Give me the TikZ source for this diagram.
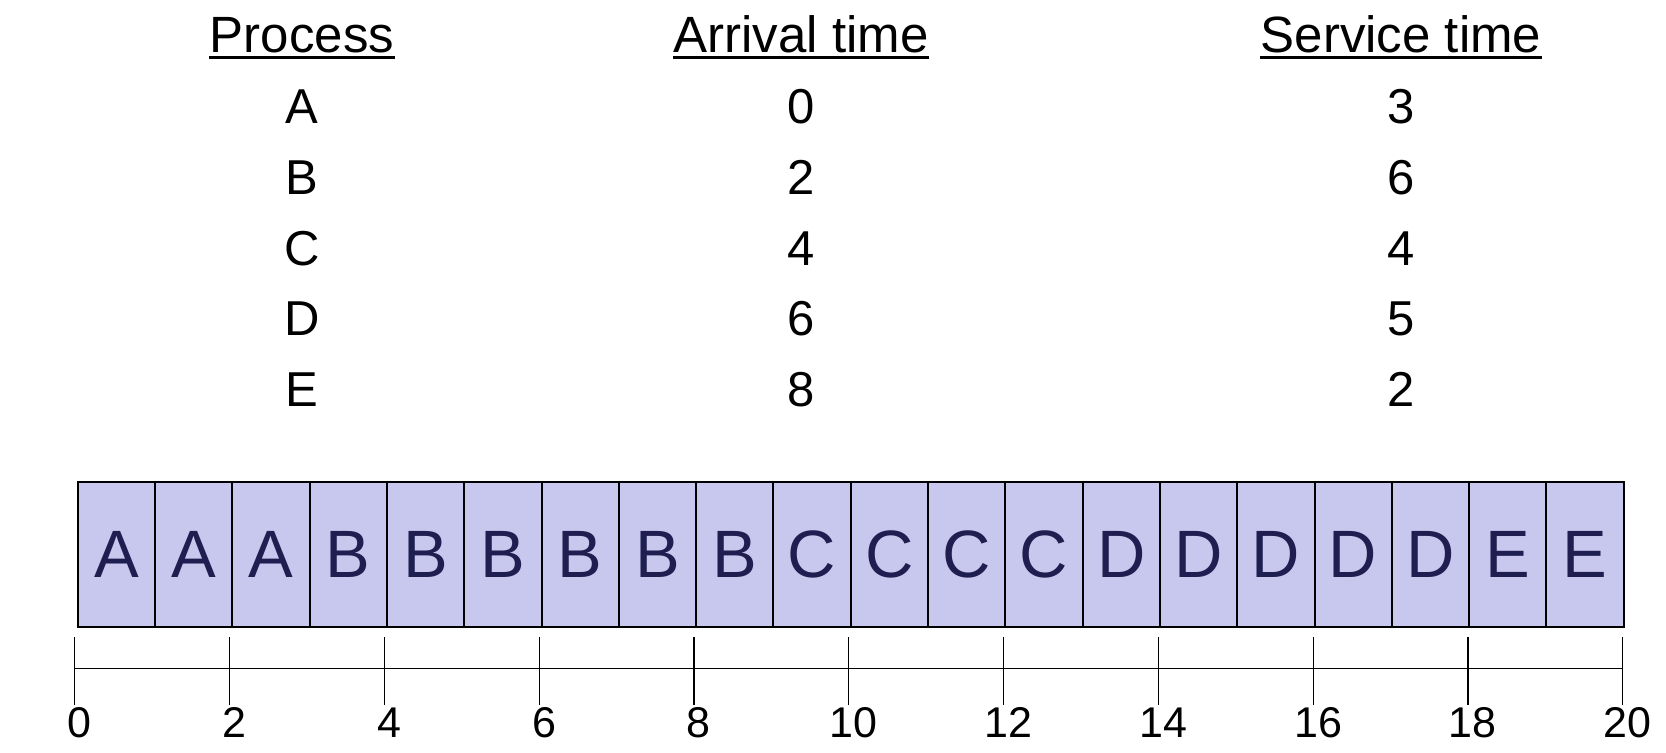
\documentclass[tikz,border=0pt]{standalone}
\usepackage{fontspec}
\setmainfont{Liberation Sans}
\definecolor{cellfill}{RGB}{200,200,238}
\definecolor{cellink}{RGB}{30,30,80}

\begin{document}
\begin{tikzpicture}[x=0.5pt,y=-0.5pt,
  hdr/.style={inner sep=0pt,font=\fontsize{25.5}{30}\selectfont},
  uline/.style={line width=1.2pt},
  val/.style={inner sep=0pt,font=\fontsize{24.5}{29}\selectfont},
  cell/.style={draw=black,line width=1pt,fill=cellfill,minimum width=38.65pt,minimum height=72.2pt,inner sep=0pt,text=cellink,font=\fontsize{33.5}{40}\selectfont},
  axis/.style={line width=0.6pt},
  ticklbl/.style={inner sep=0pt,anchor=north,font=\fontsize{21.5}{26}\selectfont}]
\useasboundingbox (0,0) rectangle (1666,752);
\node[hdr,anchor=base] (hp) at (302,52) {Process};
\node[hdr,anchor=base] (ha) at (801,52) {Arrival time};
\node[hdr,anchor=base] (hs) at (1401,52) {Service time};
\foreach \h in {hp,ha,hs}
  \draw[uline] ([yshift=-2.8pt]\h.base west) -- ([yshift=-2.8pt]\h.base east);
\foreach \p/\a/\s [count=\i] in {A/0/3,B/2/6,C/4/4,D/6/5,E/8/2} {
  \node[val] (p\i) at (302,{107+70.7*(\i-1)}) {\p};
  \node[val] (a\i) at (801,{107+70.7*(\i-1)}) {\a};
  \node[val] (s\i) at (1401,{107+70.7*(\i-1)}) {\s};
}
\foreach \p [count=\i] in {A,A,A,B,B,B,B,B,B,C,C,C,C,D,D,D,D,D,E,E}
  \node[cell] (c\i) at ({77.7+77.3*(\i-0.5)},554.5) {\p};
\coordinate (t0) at (74.7,668.3);
\coordinate (t20) at (1622.7,668.3);
\draw[axis] (t0) -- (t20);
\foreach \k in {0,2,...,20} {
  \coordinate (up\k) at ({74.7+77.4*\k},637);
  \coordinate (dn\k) at ({74.7+77.4*\k},705);
  \draw[axis] (up\k) -- (dn\k);
  \node[ticklbl] (l\k) at ([xshift=2.5pt,yshift=-1pt]dn\k) {\k};
}
\end{tikzpicture}
\end{document}
